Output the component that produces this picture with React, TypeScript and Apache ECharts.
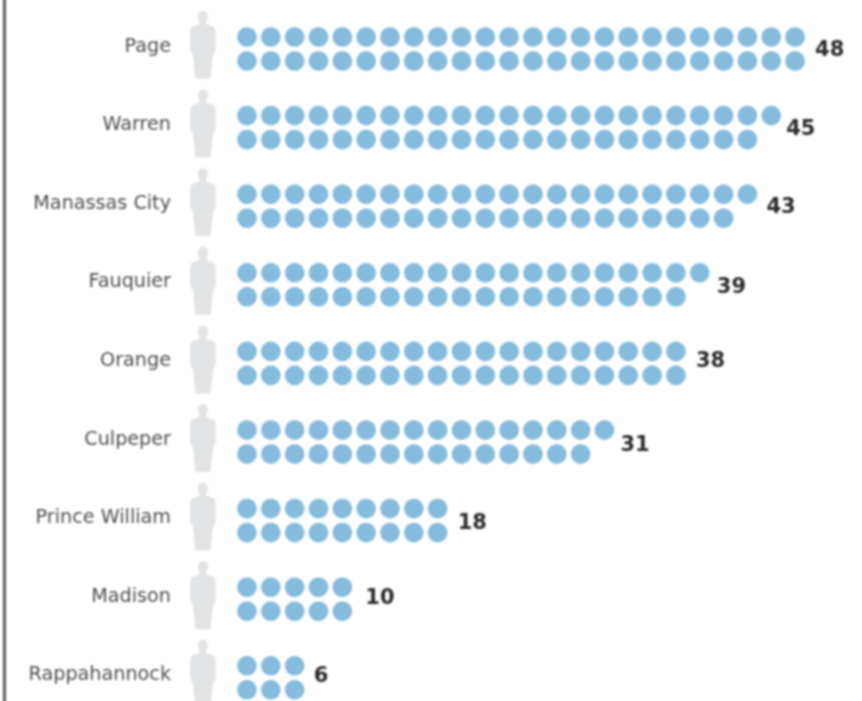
import React, { useEffect, useRef } from "react";
import * as echarts from "echarts";

const counties = ["Page", "Warren", "Manassas City", "Fauquier", "Orange", "Culpeper", "Prince William", "Madison", "Rappahannock"];
const values = [48, 45, 43, 39, 38, 31, 18, 10, 6];

const W = 862, H = 701, BLEED = 8;
const X0 = 247, DX = 23.83, Y0 = 37, DY = 78.6;
const ROW2 = 24 / DY;
const PERSON_COL = (203 - X0) / DX;
const PERSON_Y = 8 / DY;
const PERSON = "path://M13 0C16 0 18 2.5 18 6C18 9 16.5 11 16 12.5C17 14 23 14.5 25 17C26 19 26 30 26 36C26 40 24 42 23 44L20.5 68L5.5 68L3 44C2 42 0 40 0 36C0 30 0 19 1 17C3 14.5 9 14 10 12.5C9.5 11 8 9 8 6C8 2.5 10 0 13 0Z";
const NUDGE = [[2, 0], [-3, 0], [1, 0], [-1, 1], [2, -3], [-2, 2], [2, 1], [5, -2], [1, -3]];

export default function App() {
  const ref = useRef<HTMLDivElement>(null);
  useEffect(() => {
    const chart = echarts.init(ref.current!, undefined, { renderer: "svg" });
    const dots: number[][] = [];
    values.forEach((v, i) => {
      const top = Math.ceil(v / 2), bottom = Math.floor(v / 2);
      for (let c = 0; c < top; c++) dots.push([c, i]);
      for (let c = 0; c < bottom; c++) dots.push([c, i + ROW2]);
    });
    chart.setOption({
      animation: false,
      grid: { left: 0, top: BLEED, width: W, height: H },
      xAxis: { type: "value", show: false, min: -X0 / DX, max: (W - X0) / DX },
      yAxis: { type: "value", show: false, inverse: true, min: -Y0 / DY, max: (H - Y0) / DY },
      graphic: [{ type: "rect", shape: { x: 3, y: 0, width: 3, height: H + 2 * BLEED }, style: { fill: "#5f5f5f" } }],
      series: [
        {
          type: "scatter",
          symbol: PERSON,
          symbolSize: [26, 68],
          silent: true,
          clip: false,
          itemStyle: { color: "#e2e3e5", opacity: 1 },
          label: {
            show: true,
            position: "left",
            distance: 19,
            color: "#4d4d4d",
            fontFamily: "'DejaVu Sans', sans-serif",
            fontSize: 19.2,
            formatter: (p: any) => counties[p.dataIndex],
          },
          data: counties.map((_, i) => [PERSON_COL, i + PERSON_Y]),
        },
        {
          type: "scatter",
          symbol: "circle",
          symbolSize: 19.6,
          silent: true,
          clip: false,
          itemStyle: { color: "#85bbdd", opacity: 1 },
          data: dots,
        },
        {
          type: "scatter",
          symbol: "circle",
          symbolSize: 20,
          silent: true,
          clip: false,
          itemStyle: { color: "rgba(0,0,0,0)", opacity: 1 },
          label: {
            show: true,
            position: "right",
            distance: 8,
            color: "#2b2b2b",
            fontFamily: "'DejaVu Sans', sans-serif",
            fontWeight: "bold",
            fontSize: 21,
            formatter: (p: any) => String(values[p.dataIndex]),
          },
          data: values.map((v, i) => ({
            value: [Math.ceil(v / 2) - 1, i + ROW2 / 2],
            label: { offset: NUDGE[i] },
          })),
        },
      ],
    });
    return () => chart.dispose();
  }, []);
  return <div ref={ref} style={{ position: "fixed", left: 0, top: -BLEED, width: W, height: H + 2 * BLEED, background: "#fff", filter: "blur(0.9px)" }} />;
}
